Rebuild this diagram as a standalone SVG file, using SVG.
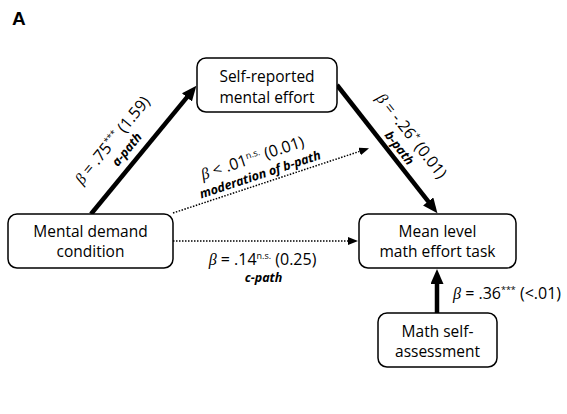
<svg xmlns="http://www.w3.org/2000/svg" width="567" height="414" viewBox="0 0 567 414">
<style>
.box{fill:#fff;stroke:#000;stroke-width:1.5}
.nt{font-family:"Open Sans","Liberation Sans",sans-serif;font-size:15.5px;fill:#000;text-anchor:middle}
.lbl{font-family:"Open Sans","Liberation Sans",sans-serif;font-size:16px;fill:#000;text-anchor:middle}
.sup{font-size:9px}
.path{font-family:"Open Sans","Liberation Sans",sans-serif;font-size:12.5px;font-weight:bold;font-style:italic;fill:#000;text-anchor:middle}
.thick{stroke:#000;stroke-width:4.5;fill:none}
.dot{stroke:#000;stroke-width:1.5;stroke-dasharray:1.5 1.5;fill:none}
.beta{font-family:"Liberation Serif","DejaVu Serif",serif;font-style:italic}
</style>
<defs>
<marker id="big" markerUnits="userSpaceOnUse" markerWidth="15" markerHeight="13" refX="1" refY="6.5" orient="auto">
<path d="M0,0 L15,6.5 L0,13 z" fill="#000"/>
</marker>
<marker id="small" markerUnits="userSpaceOnUse" markerWidth="10" markerHeight="8" refX="1" refY="4" orient="auto">
<path d="M0,0 L10,4 L0,8 z" fill="#000"/>
</marker>
</defs>
<rect width="567" height="414" fill="#fff"/>
<text x="12" y="25" font-family="Liberation Sans,Arial,sans-serif" font-weight="bold" font-size="19">A</text>

<g id="connectors">
<line class="thick" x1="91" y1="214" x2="187.5" y2="96.6" marker-end="url(#big)"/>
<line class="thick" x1="337" y1="85" x2="428.8" y2="202.2" marker-end="url(#big)"/>
<line class="thick" x1="437" y1="313" x2="437" y2="283" marker-end="url(#big)"/>
<line class="dot" x1="173" y1="213" x2="360.5" y2="151.1" marker-end="url(#small)"/>
<line class="dot" x1="173" y1="241" x2="349" y2="241" marker-end="url(#small)"/>
</g>

<g id="labels">
<g transform="translate(144,149.5) rotate(-50.6)">
<text class="lbl" x="-13" y="-25"><tspan class="beta">β</tspan> = .75<tspan class="sup" dy="-6">***</tspan><tspan dy="6"> (1.59)</tspan></text>
<text class="path" x="-11" y="-9">a-path</text>
</g>
<g transform="translate(387.5,149.5) rotate(51.9)">
<text class="lbl" x="4" y="-22"><tspan class="beta">β</tspan> = -.26<tspan class="sup" dy="-6">*</tspan><tspan dy="6"> (0.01)</tspan></text>
<text class="path" x="6" y="-6">b-path</text>
</g>
<g transform="translate(271.5,180.5) rotate(-18.3)">
<text class="lbl" x="-11" y="-22"><tspan class="beta">β</tspan> &lt; .01<tspan class="sup" dy="-6">n.s.</tspan><tspan dy="6"> (0.01)</tspan></text>
<text class="path" x="-9" y="-5" font-size="13.5">moderation of b-path</text>
</g>
<text class="lbl" x="262.5" y="265"><tspan class="beta">β</tspan> = .14<tspan class="sup" dy="-6">n.s.</tspan><tspan dy="6"> (0.25)</tspan></text>
<text class="path" x="263.5" y="282">c-path</text>
<text class="lbl" x="453" y="299" style="text-anchor:start"><tspan class="beta">β</tspan> = .36<tspan class="sup" dy="-6">***</tspan><tspan dy="6"> (&lt;.01)</tspan></text>
</g>

<g id="node-self-reported">
<rect class="box" x="197" y="58" width="140" height="54" rx="9"/>
<text class="nt" x="267" y="82">Self-reported</text>
<text class="nt" x="267" y="103">mental effort</text>
</g>
<g id="node-mental-demand">
<rect class="box" x="8" y="214" width="165" height="54" rx="9"/>
<text class="nt" x="90.5" y="237">Mental demand</text>
<text class="nt" x="90.5" y="257">condition</text>
</g>
<g id="node-mean-level">
<rect class="box" x="359" y="214" width="157" height="54" rx="9"/>
<text class="nt" x="437.5" y="237">Mean level</text>
<text class="nt" x="437.5" y="257">math effort task</text>
</g>
<g id="node-math-self">
<rect class="box" x="378" y="313" width="119" height="54" rx="9"/>
<text class="nt" x="437.5" y="337">Math self-</text>
<text class="nt" x="437.5" y="357">assessment</text>
</g>
</svg>
